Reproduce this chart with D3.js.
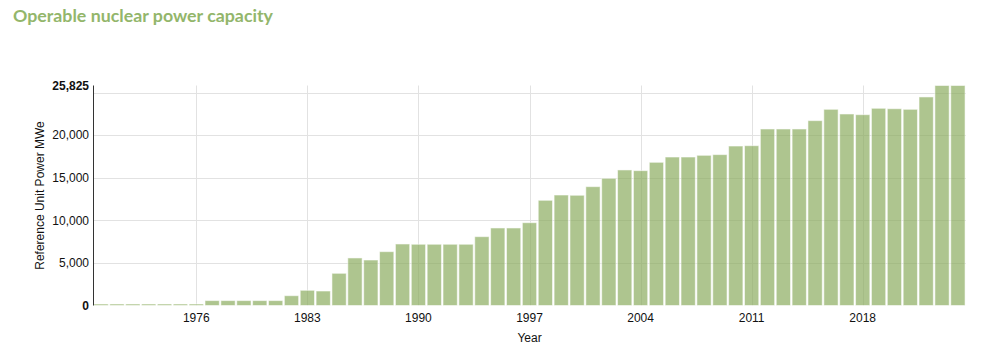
<!DOCTYPE html>
<html><head><meta charset="utf-8">
<script src="https://cdn.jsdelivr.net/npm/d3@7"></script>
<style>body{margin:0;background:#fff;} svg{display:block;}</style>
</head><body>
<svg id="c" width="986" height="350"></svg>
<script>
const years = [1970,1971,1972,1973,1974,1975,1976,1977,1978,1979,1980,1981,1982,1983,1984,1985,1986,1987,1988,1989,
  1990,1991,1992,1993,1994,1995,1996,1997,1998,1999,2000,2001,2002,2003,2004,2005,2006,2007,2008,2009,
  2010,2011,2012,2013,2014,2015,2016,2017,2018,2019,2020,2021,2022,2023,2024];
const capacity = [0,0,0,0,0,0,0,576,576,576,576,576,1150,1785,1700,3780,5580,5340,6320,7220,
  7190,7190,7190,7190,8080,9100,9100,9720,12350,12970,12940,13950,14930,15910,15830,16810,17430,17430,17630,17710,
  18720,18760,20720,20720,20720,21700,23030,22480,22400,23150,23100,23030,24480,25825,25825];
const xTickYears = [1976,1983,1990,1997,2004,2011,2018];
const yTicks = [0,5000,10000,15000,20000];
const yGrid = [5000,10000,15000,20000,25000];
const yMax = 25825;
const titleText = "Operable nuclear power capacity";
const xLabel = "Year";
const yLabel = "Reference Unit Power MWe";

(function () {
const svg = d3.select("#c");
const mLeft = 93, mRight = 966, mTop = 85.5, mBottom = 305.5;

const x = d3.scaleBand().domain(years).range([mLeft, mRight]).paddingInner(0.1).paddingOuter(0.06);
const y = d3.scaleLinear().domain([0, yMax]).range([mBottom, mTop]);

svg.append("text").attr("x", 13).attr("y", 22)
  .attr("font-family", "Lato, 'Open Sans', sans-serif").attr("font-weight", 700)
  .attr("font-size", 17.8).attr("fill", "#93b66b").text(titleText);

// grid
const g = svg.append("g");
g.selectAll("line.h").data(yGrid).join("line")
  .attr("x1", mLeft).attr("x2", mRight)
  .attr("y1", d => Math.round(y(d)) + 0.5).attr("y2", d => Math.round(y(d)) + 0.5)
  .attr("stroke", "#e2e2e2").attr("stroke-width", 1);
g.selectAll("line.v").data(xTickYears).join("line")
  .attr("x1", d => Math.round(x(d) + x.bandwidth() / 2) + 0.5)
  .attr("x2", d => Math.round(x(d) + x.bandwidth() / 2) + 0.5)
  .attr("y1", mTop).attr("y2", mBottom)
  .attr("stroke", "#e2e2e2").attr("stroke-width", 1);

// bars
svg.append("g").selectAll("rect").data(years).join("rect")
  .attr("x", (d) => x(d))
  .attr("width", x.bandwidth())
  .attr("y", (d, i) => Math.min(y(capacity[i]), mBottom - 1.5))
  .attr("height", (d, i) => Math.max(mBottom - y(capacity[i]), 1.5))
  .attr("fill", "#8cac5f").attr("fill-opacity", 0.7)
  .attr("stroke", "#ffffff").attr("stroke-opacity", 0.55).attr("stroke-width", 1);

// y axis
const yAxis = svg.append("g").attr("transform", `translate(${mLeft},0)`);
yAxis.append("line").attr("x1", 0.5).attr("x2", 0.5).attr("y1", mTop).attr("y2", mBottom)
  .attr("stroke", "#333").attr("stroke-width", 1);
const yLabels = yTicks.concat([yMax]);
yAxis.selectAll("text").data(yLabels).join("text")
  .attr("x", -4).attr("y", d => y(d)).attr("dy", "0.35em")
  .attr("text-anchor", "end")
  .attr("font-family", "'Liberation Sans', Arial, sans-serif").attr("font-size", 12)
  .attr("font-weight", d => (d === 0 || d === yMax) ? 700 : 400)
  .attr("fill", "#111")
  .text(d => d3.format(",")(d));

// x axis labels
svg.append("g").selectAll("text").data(xTickYears).join("text")
  .attr("x", d => x(d) + x.bandwidth() / 2).attr("y", 322)
  .attr("text-anchor", "middle")
  .attr("font-family", "'Liberation Sans', Arial, sans-serif").attr("font-size", 12)
  .attr("fill", "#111").text(d => d);

svg.append("text").attr("x", (mLeft + mRight) / 2).attr("y", 342).attr("text-anchor", "middle")
  .attr("font-family", "'Liberation Sans', Arial, sans-serif").attr("font-size", 12)
  .attr("fill", "#111").text(xLabel);

svg.append("text").attr("transform", `translate(44,${(mTop + mBottom) / 2}) rotate(-90)`)
  .attr("text-anchor", "middle")
  .attr("font-family", "'Liberation Sans', Arial, sans-serif").attr("font-size", 12)
  .attr("fill", "#111").text(yLabel);
})();
</script>
</body></html>
